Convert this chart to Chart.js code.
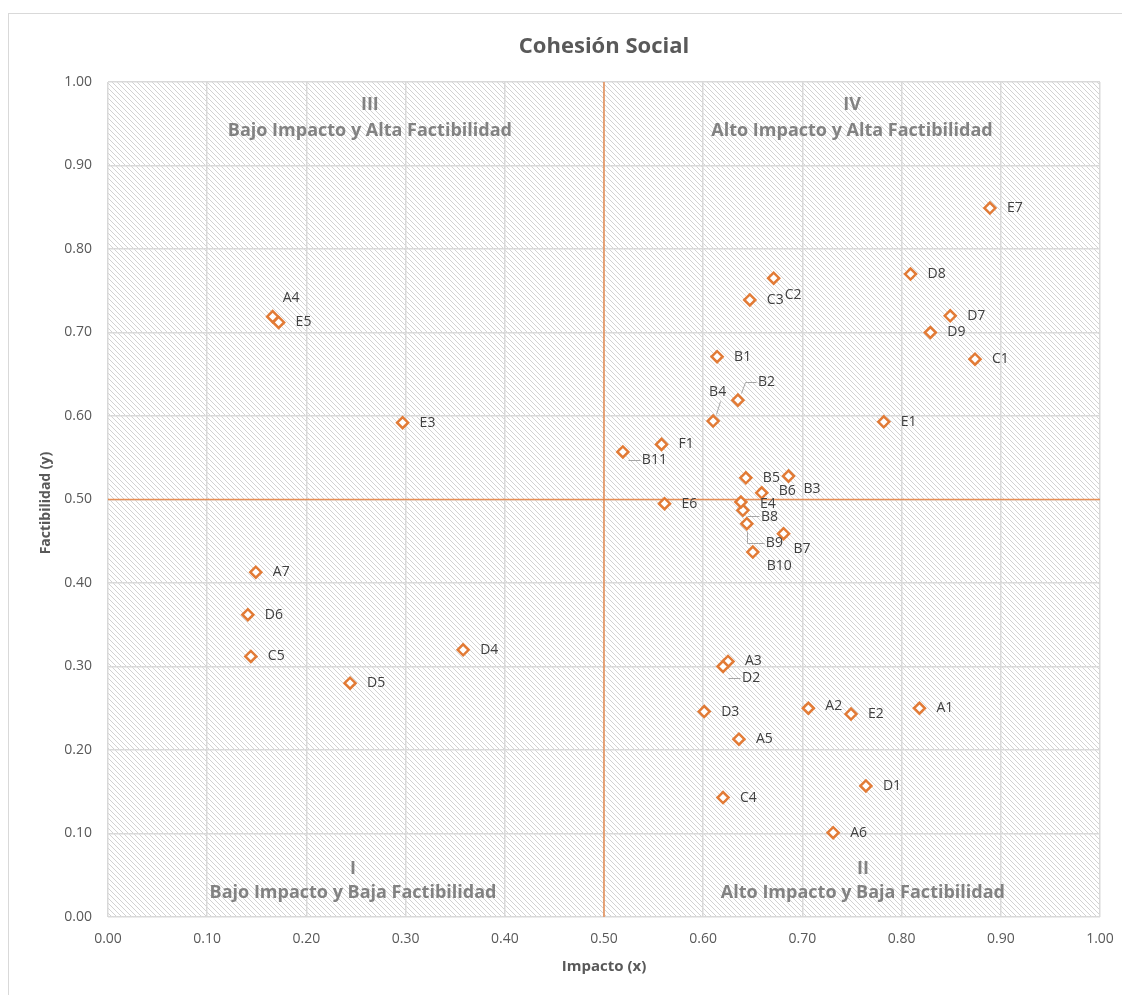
<!DOCTYPE html>
<html>
<head>
<meta charset="utf-8">
<script src="https://cdn.jsdelivr.net/npm/chart.js@4/dist/chart.umd.min.js"></script>
<style>
  html, body { margin: 0; padding: 0; background: #ffffff; }
  #wrap { position: relative; width: 1122px; height: 995px; }
  canvas { display: block; }
</style>
</head>
<body>
<div id="wrap"><canvas id="c" width="1122" height="995"></canvas></div>
<script>
// ---- Data ----
const pointLabels = ['A1','A2','A3','A4','A5','A6','A7',
  'B1','B2','B3','B4','B5','B6','B7','B8','B9','B10','B11',
  'C1','C2','C3','C4','C5',
  'D1','D2','D3','D4','D5','D6','D7','D8','D9',
  'E1','E2','E3','E4','E5','E6','E7','F1'];
const impactoX = [0.818,0.706,0.625,0.166,0.636,0.731,0.149,
  0.614,0.635,0.686,0.610,0.643,0.659,0.681,0.640,0.644,0.650,0.519,
  0.874,0.671,0.647,0.620,0.144,
  0.764,0.620,0.601,0.358,0.244,0.141,0.849,0.809,0.829,
  0.782,0.749,0.297,0.638,0.172,0.561,0.889,0.558];
const factibilidadY = [0.250,0.250,0.306,0.719,0.213,0.101,0.413,
  0.671,0.619,0.528,0.594,0.526,0.508,0.459,0.487,0.471,0.437,0.557,
  0.668,0.765,0.739,0.143,0.312,
  0.157,0.300,0.246,0.320,0.280,0.362,0.720,0.770,0.700,
  0.593,0.243,0.592,0.497,0.712,0.495,0.849,0.566];
const xTickLabels = ['0.00','0.10','0.20','0.30','0.40','0.50','0.60','0.70','0.80','0.90','1.00'];
const yTickLabels = ['0.00','0.10','0.20','0.30','0.40','0.50','0.60','0.70','0.80','0.90','1.00'];
const quadrantNumerals = ['I','II','III','IV'];
const quadrantNames = ['Bajo Impacto y Baja Factibilidad','Alto Impacto y Baja Factibilidad',
  'Bajo Impacto y Alta Factibilidad','Alto Impacto y Alta Factibilidad'];
const thresholdX = 0.5;
const thresholdY = 0.5;
const chartTitle = 'Cohesión Social';
const xTitle = 'Impacto (x)';
const yTitle = 'Factibilidad (y)';

// ---- Styling / label placement (not data) ----
const ORANGE = '#E27B36';
const labelOffsets = {
  A4:[10,-19], B2:[20,-18], B4:[-4,-29], B11:[19,8], B3:[15,13], B6:[17,-2],
  E4:[19,2], B8:[18,7], B9:[19,19], B7:[10,15], B10:[14,14], C2:[11,17], D2:[19,12], A2:[17,-2]
};
const leaders = {
  B2:[[3,-7],[7,-18],[18,-18]],
  B4:[[3,-7],[7,-20]],
  B11:[[5,8],[17,8]],
  B8:[[4,6],[16,6]],
  B9:[[0,7],[0,19],[17,19]],
  D2:[[5,11],[17,11]]
};
const quadrantPos = [
  {x:0.247, yNum:0.058, yName:0.029},
  {x:0.761, yNum:0.058, yName:0.029},
  {x:0.264, yNum:0.973, yName:0.941},
  {x:0.750, yNum:0.973, yName:0.941}
];

function hatchPattern(ctx) {
  const p = document.createElement('canvas');
  const s = 5;
  p.width = s; p.height = s;
  const g = p.getContext('2d');
  g.fillStyle = '#ffffff';
  g.fillRect(0,0,s,s);
  g.strokeStyle = '#d2d2d2';
  g.lineWidth = 1;
  g.beginPath();
  g.moveTo(-1,-1); g.lineTo(s+1,s+1);
  g.moveTo(-1-s,-1); g.lineTo(1,s+1);
  g.moveTo(s-1,-1); g.lineTo(2*s+1,s+1);
  g.stroke();
  return ctx.createPattern(p,'repeat');
}

const decorPlugin = {
  id: 'decor',
  beforeDraw(chart) {
    const {ctx, chartArea} = chart;
    ctx.save();
    ctx.fillStyle = '#ffffff';
    ctx.fillRect(0,0,chart.width,chart.height);
    ctx.strokeStyle = '#d9d9d9';
    ctx.lineWidth = 1;
    ctx.strokeRect(8.5, 13.5, 1200, 1100);
    ctx.fillStyle = hatchPattern(ctx);
    ctx.fillRect(chartArea.left, chartArea.top, chartArea.right - chartArea.left, chartArea.bottom - chartArea.top);
    ctx.restore();
  },
  afterDatasetsDraw(chart) {
    const {ctx, scales} = chart;
    const xs = scales.x, ys = scales.y;
    ctx.save();
    // quadrant labels
    ctx.fillStyle = '#828282';
    ctx.textAlign = 'center';
    ctx.textBaseline = 'middle';
    ctx.font = 'bold 18px "Open Sans"';
    quadrantPos.forEach((q, i) => {
      const px = xs.getPixelForValue(q.x);
      ctx.fillText(quadrantNumerals[i], px, ys.getPixelForValue(q.yNum));
      ctx.fillText(quadrantNames[i], px, ys.getPixelForValue(q.yName));
    });
    // point labels & leaders
    const meta = chart.getDatasetMeta(0);
    ctx.font = '14px "Open Sans"';
    ctx.textAlign = 'left';
    ctx.fillStyle = '#404040';
    ctx.strokeStyle = '#a6a6a6';
    ctx.lineWidth = 1;
    meta.data.forEach((el, i) => {
      const name = pointLabels[i];
      const off = labelOffsets[name] || [17, 0];
      if (leaders[name]) {
        ctx.beginPath();
        leaders[name].forEach((p, k) => {
          const fx = Math.round(el.x + p[0]) + 0.5, fy = Math.round(el.y + p[1]) + 0.5;
          if (k === 0) ctx.moveTo(fx, fy); else ctx.lineTo(fx, fy);
        });
        ctx.stroke();
      }
      ctx.fillText(name, el.x + off[0], el.y + off[1]);
    });
    // titles
    ctx.fillStyle = '#595959';
    ctx.textAlign = 'center';
    ctx.font = 'bold 22px "Open Sans"';
    ctx.fillText(chartTitle, 604, 47);
    ctx.font = 'bold 15px "Open Sans"';
    ctx.fillText(xTitle, (chart.chartArea.left + chart.chartArea.right)/2, 967);
    ctx.font = 'bold 14px "Open Sans"';
    ctx.translate(46, 503);
    ctx.rotate(-Math.PI/2);
    ctx.fillText(yTitle, 0, 0);
    ctx.restore();
  }
};

const points = impactoX.map((x, i) => ({x, y: factibilidadY[i]}));

new Chart(document.getElementById('c'), {
  type: 'scatter',
  data: {
    datasets: [
      {
        label: 'Proyectos',
        data: points,
        pointStyle: 'rectRot',
        pointRadius: 5.5,
        pointBorderWidth: 2.5,
        pointBorderColor: ORANGE,
        pointBackgroundColor: '#ffffff',
        pointHoverRadius: 5.5
      },
      {
        label: 'vx',
        data: [{x: thresholdX, y: 0}, {x: thresholdX, y: 1}],
        showLine: true, pointRadius: 0, borderColor: 'rgba(232,128,60,0.85)', borderWidth: 1.5
      },
      {
        label: 'hy',
        data: [{x: 0, y: thresholdY}, {x: 1, y: thresholdY}],
        showLine: true, pointRadius: 0, borderColor: 'rgba(232,128,60,0.85)', borderWidth: 1.5
      }
    ]
  },
  options: {
    responsive: false,
    animation: false,
    events: [],
    layout: { padding: { top: 82, right: 22, left: 0, bottom: 0 } },
    plugins: { legend: { display: false }, tooltip: { enabled: false }, title: { display: false } },
    scales: {
      x: {
        type: 'linear', min: 0, max: 1,
        afterFit(s) { s.height = 78; s.paddingRight = 0; s.paddingLeft = 0; },
        afterBuildTicks(s) { s.ticks = xTickLabels.map(t => ({value: parseFloat(t)})); },
        ticks: { padding: 14, color: '#595959', font: { family: 'Open Sans', size: 14 },
          callback: (v, i) => xTickLabels[i] },
        grid: { color: '#d9d9d9', lineWidth: 1.5, drawTicks: false },
        border: { display: false }
      },
      y: {
        type: 'linear', min: 0, max: 1,
        afterFit(s) { s.width = 108; s.paddingTop = 0; s.paddingBottom = 0; },
        afterBuildTicks(s) { s.ticks = yTickLabels.map(t => ({value: parseFloat(t)})); },
        ticks: { padding: 16, color: '#595959', font: { family: 'Open Sans', size: 14 },
          callback: (v, i) => yTickLabels[i] },
        grid: { color: '#d9d9d9', lineWidth: 1.5, drawTicks: false },
        border: { display: false }
      }
    }
  },
  plugins: [decorPlugin]
});
</script>
</body>
</html>
